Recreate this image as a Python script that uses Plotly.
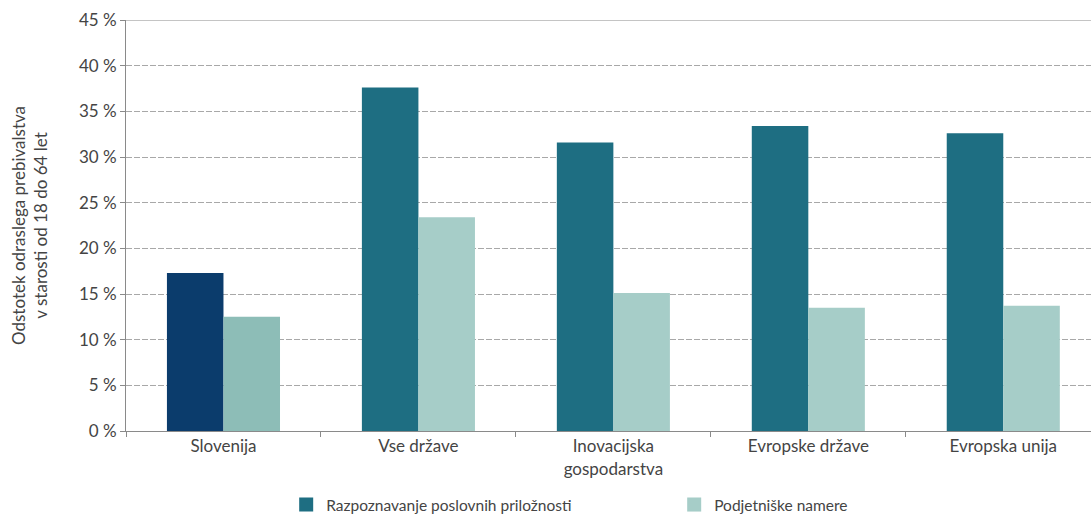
import plotly.graph_objects as go

categories = ["Slovenija", "Vse države", "Inovacijska<br>gospodarstva",
              "Evropske države", "Evropska unija"]
prepoznavanje = [17.3, 37.6, 31.6, 33.4, 32.6]
namere = [12.5, 23.4, 15.1, 13.5, 13.7]
tick_vals = [0, 5, 10, 15, 20, 25, 30, 35, 40, 45]
tick_text = [f"{v} %" for v in tick_vals]

name_a = "Razpoznavanje poslovnih priložnosti"
name_b = "Podjetniške namere"

# Slovenia is highlighted with darker shades
dark_colors = ["#0b3c6c"] + ["#1e6e82"] * 4
light_colors = ["#8dbdb7"] + ["#a6cdc8"] * 4

FONT = "Lato, Open Sans, sans-serif"
TXT = "#444444"
FS = 17

fig = go.Figure()
fig.add_trace(go.Bar(x=categories, y=prepoznavanje, name=name_a,
                     marker=dict(color=dark_colors, line=dict(width=0)),
                     showlegend=False))
fig.add_trace(go.Bar(x=categories, y=namere, name=name_b,
                     marker=dict(color=light_colors, line=dict(width=0)),
                     showlegend=False))
# legend swatches in the common series colours
for nm, col in [(name_a, "#1e6e82"), (name_b, "#a6cdc8")]:
    fig.add_trace(go.Scatter(x=[None], y=[None], name=nm, mode="markers",
                             marker=dict(symbol="square", size=14, color=col)))

fig.update_layout(
    width=1091, height=521,
    margin=dict(l=126, r=0, t=20, b=90, autoexpand=False),
    paper_bgcolor="white", plot_bgcolor="white",
    barmode="group", bargap=0.42, bargroupgap=0,
    font=dict(family=FONT, size=FS, color=TXT),
    legend=dict(orientation="h", x=0.166, y=-0.18, xanchor="left", yanchor="middle",
                font=dict(size=15.5, color=TXT), entrywidth=343,
                itemwidth=30, traceorder="normal"),
)
fig.update_xaxes(
    range=[-0.5, 4.45], showline=True, linecolor="#8a8a8a", linewidth=1,
    ticks="outside", tickson="boundaries", ticklen=5, tickcolor="#8a8a8a",
    showgrid=False, tickfont=dict(size=FS, color=TXT),
)
fig.update_yaxes(
    range=[0, 45], tickvals=tick_vals, ticktext=tick_text,
    showline=True, linecolor="#8a8a8a", linewidth=1, mirror=False,
    ticks="outside", ticklen=5, tickcolor="#8a8a8a",
    showgrid=True, gridcolor="#a8a8a8", griddash="6px,2px", gridwidth=1,
    zeroline=False, tickfont=dict(size=FS, color=TXT),
    title=dict(text="Odstotek odraslega prebivalstva<br>v starosti od 18 do 64 let",
               font=dict(size=FS, color=TXT), standoff=26),
)
# solid top border at 45 %
fig.add_shape(type="line", xref="paper", yref="y", x0=0, x1=1, y0=45, y1=45,
              line=dict(color="#8a8a8a", width=1.2))

fig.write_html("out.html")
